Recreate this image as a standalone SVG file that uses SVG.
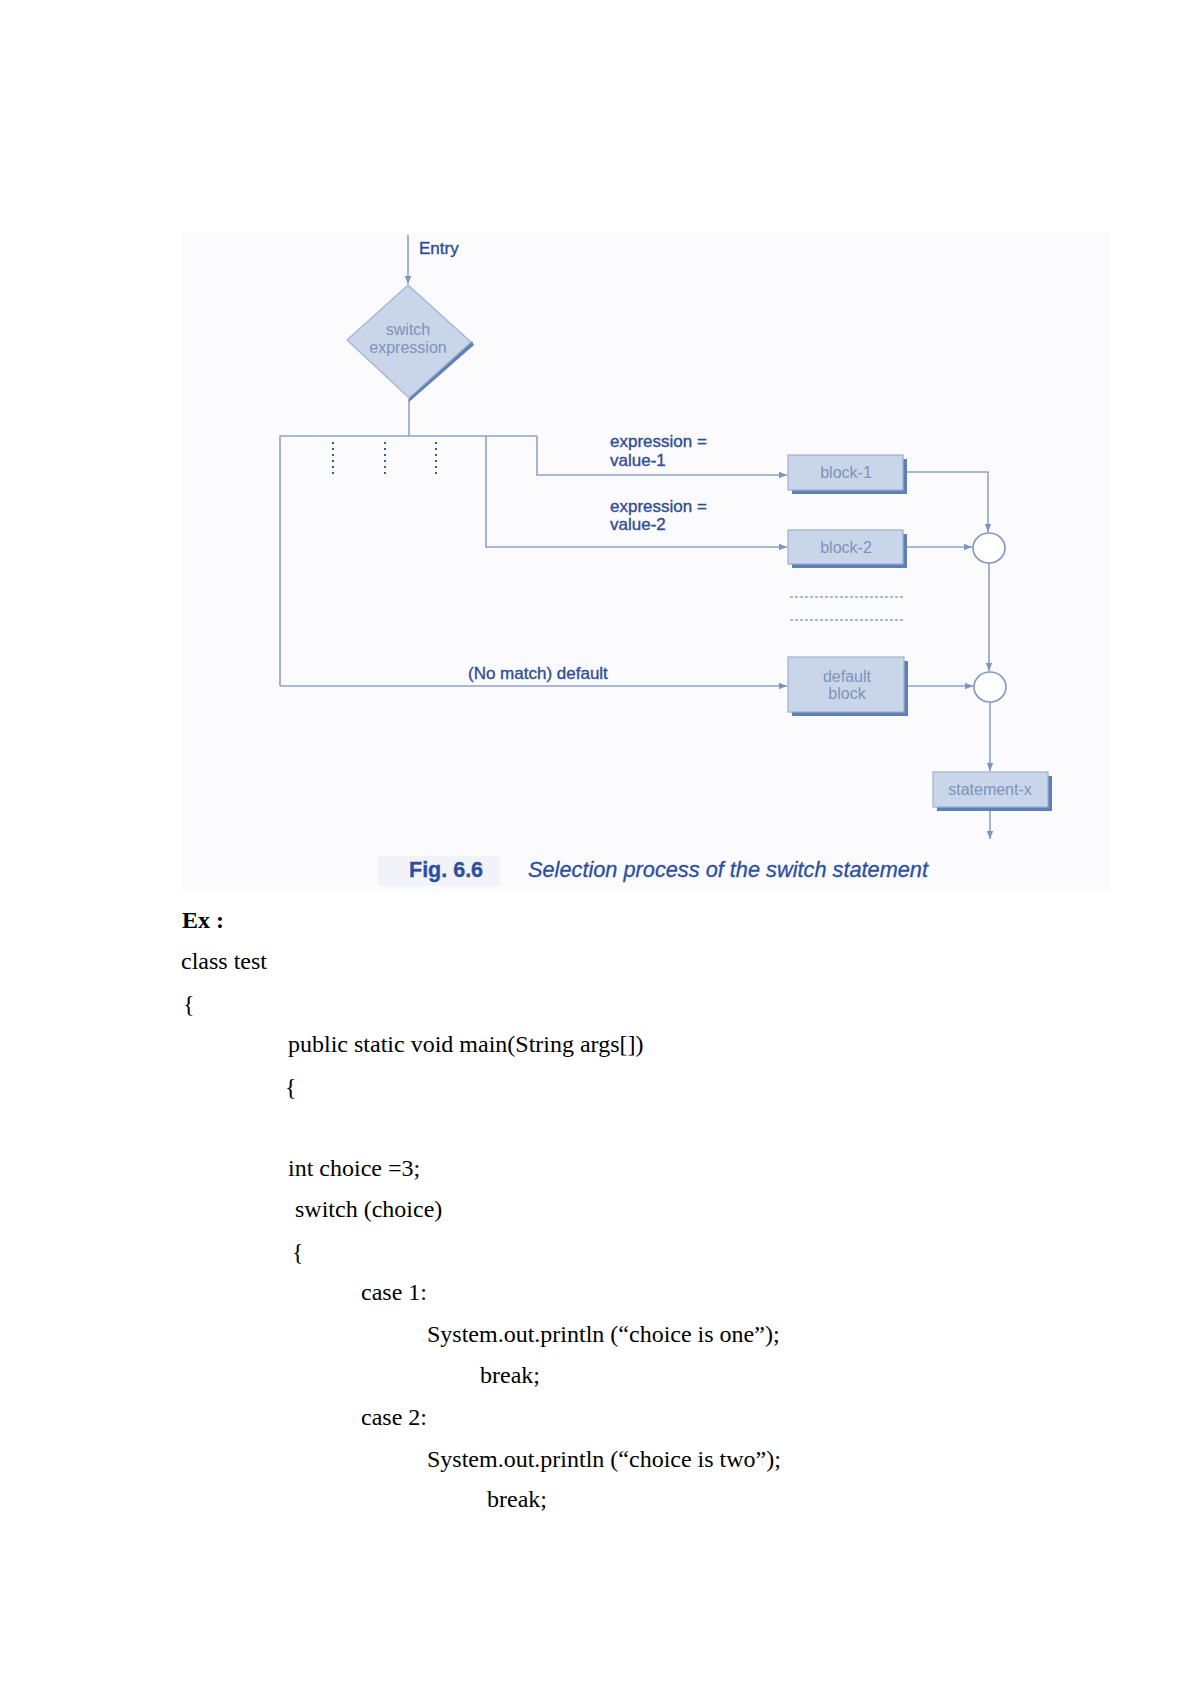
<svg xmlns="http://www.w3.org/2000/svg" width="1192" height="1684" viewBox="0 0 1192 1684">
<style>
.ln{fill:none;stroke:#8ea3c7;stroke-width:1.6}
.dot{fill:none;stroke:#3c5a9a;stroke-width:2;stroke-dasharray:2 4}
.hdot{fill:none;stroke:#5b76ad;stroke-width:1;stroke-dasharray:3 2}
.box{fill:#c9d6e9;stroke:#9bb0d0;stroke-width:1.2}
.shd{fill:#5f80b6}
.bt{font-family:"Liberation Sans",Arial,sans-serif;font-size:16px;fill:#7d93b9;text-anchor:middle}
.lb{font-family:"Liberation Sans",Arial,sans-serif;font-size:17px;fill:#2f4c96;stroke:#2f4c96;stroke-width:0.35}
.cap{font-family:"Liberation Sans",Arial,sans-serif;font-size:21.5px;fill:#2b4ea3;stroke:#2b4ea3;stroke-width:0.3}
.code{font-family:"Liberation Serif","Times New Roman",serif;font-size:24px;fill:#000}
</style>
<defs>
<marker id="ah" viewBox="0 0 10 10" refX="10" refY="5" markerWidth="8" markerHeight="8" markerUnits="userSpaceOnUse" orient="auto">
<path d="M0,1 L10,5 L0,9 z" fill="#7d95bf"/>
</marker>
</defs>
<rect width="1192" height="1684" fill="#ffffff"/>
<rect x="182" y="232" width="928" height="660" fill="#fbfbfd"/>

<g id="connectors">
<line class="ln" x1="408" y1="235" x2="408" y2="284" marker-end="url(#ah)"/>
<line class="ln" x1="409" y1="399" x2="409" y2="436"/>
<polyline class="ln" points="280,686 280,436 537,436"/>
<polyline class="ln" points="537,436 537,475 787,475" marker-end="url(#ah)"/>
<polyline class="ln" points="486,436 486,547 787,547" marker-end="url(#ah)"/>
<line class="ln" x1="280" y1="686" x2="787" y2="686" marker-end="url(#ah)"/>
<line class="dot" x1="333" y1="442" x2="333" y2="474"/>
<line class="dot" x1="385" y1="442" x2="385" y2="474"/>
<line class="dot" x1="436" y1="442" x2="436" y2="474"/>
<polyline class="ln" points="906,472 988,472 988,532" marker-end="url(#ah)"/>
<line class="ln" x1="906" y1="547" x2="972" y2="547" marker-end="url(#ah)"/>
<line class="ln" x1="989" y1="563" x2="989" y2="671" marker-end="url(#ah)"/>
<line class="ln" x1="908" y1="686" x2="973" y2="686" marker-end="url(#ah)"/>
<line class="ln" x1="990" y1="702" x2="990" y2="771" marker-end="url(#ah)"/>
<line class="ln" x1="990" y1="810" x2="990" y2="839" marker-end="url(#ah)"/>
<line class="hdot" x1="790" y1="597" x2="905" y2="597"/>
<line class="hdot" x1="790" y1="620" x2="905" y2="620" stroke-dasharray="2 1.5"/>
</g>

<g id="entry-label"><text class="lb" x="419" y="254">Entry</text></g>

<g id="switch-expression">
<polygon points="409,402 474,345 472,341 409,396" class="shd"/>
<polygon points="408,285 471,342 409,398 347,340" fill="#c9d6e9" stroke="#9fb3d2" stroke-width="1.2"/>
<text class="bt" x="408" y="335">switch</text>
<text class="bt" x="408" y="353">expression</text>
</g>

<g id="label-value-1">
<text class="lb" x="610" y="447">expression =</text>
<text class="lb" x="610" y="466">value-1</text>
</g>
<g id="label-value-2">
<text class="lb" x="610" y="512">expression =</text>
<text class="lb" x="610" y="530">value-2</text>
</g>
<g id="label-default"><text class="lb" x="468" y="679">(No match) default</text></g>

<g id="block-1">
<rect class="shd" x="792" y="459" width="115" height="35"/>
<rect class="box" x="788" y="455" width="115" height="35"/>
<text class="bt" x="846" y="478">block-1</text>
</g>
<g id="block-2">
<rect class="shd" x="792" y="534" width="115" height="34"/>
<rect class="box" x="788" y="530" width="115" height="34"/>
<text class="bt" x="846" y="553">block-2</text>
</g>
<g id="default-block">
<rect class="shd" x="792" y="661" width="116" height="55"/>
<rect class="box" x="788" y="657" width="116" height="55"/>
<text class="bt" x="847" y="682">default</text>
<text class="bt" x="847" y="699">block</text>
</g>
<g id="junction-1"><ellipse cx="989" cy="548" rx="16" ry="15" fill="#fff" stroke="#7f97c0" stroke-width="1.6"/></g>
<g id="junction-2"><ellipse cx="990" cy="687" rx="16" ry="15" fill="#fff" stroke="#7f97c0" stroke-width="1.6"/></g>
<g id="statement-x">
<rect class="shd" x="937" y="776" width="115" height="35"/>
<rect class="box" x="933" y="772" width="115" height="35"/>
<text class="bt" x="990" y="795" font-size="16.5">statement-x</text>
</g>

<g id="caption">
<rect x="378" y="856" width="122" height="30" fill="#dfe6f2" opacity="0.35"/>
<text class="cap" x="409" y="877" font-weight="bold">Fig. 6.6</text>
<text class="cap" x="528" y="877" font-style="italic" textLength="400" lengthAdjust="spacingAndGlyphs">Selection process of the switch statement</text>
</g>

<g id="code">
<text class="code" x="182" y="928" font-weight="bold">Ex :</text>
<text class="code" x="181" y="969">class test</text>
<text class="code" x="183" y="1012">{</text>
<text class="code" x="288" y="1052">public static void main(String args[])</text>
<text class="code" x="285" y="1095">{</text>
<text class="code" x="288" y="1176">int choice =3;</text>
<text class="code" x="295" y="1217">switch (choice)</text>
<text class="code" x="292" y="1260">{</text>
<text class="code" x="361" y="1300">case 1:</text>
<text class="code" x="427" y="1342">System.out.println (“choice is one”);</text>
<text class="code" x="480" y="1383">break;</text>
<text class="code" x="361" y="1425">case 2:</text>
<text class="code" x="427" y="1467">System.out.println (“choice is two”);</text>
<text class="code" x="487" y="1507">break;</text>
</g>
</svg>
